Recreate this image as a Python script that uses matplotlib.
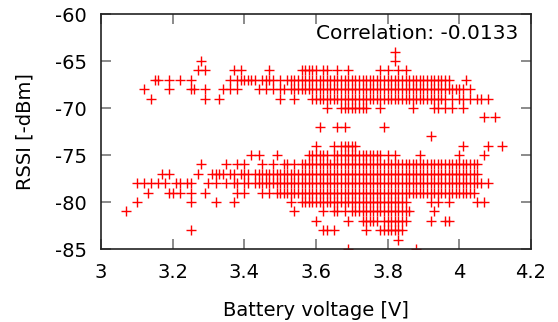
import matplotlib
matplotlib.use('Agg')
import matplotlib.pyplot as plt

plt.rcParams['axes.unicode_minus'] = False

# battery voltage in hundredths of a volt, one list per RSSI level
v_m64 = [382]
v_m65 = [328, 382]
v_m66 = [327, 329, 337, 339, 347, 356, 357, 358, 359, 360, 362, 363, 366, 369,
         378, 380, 383, 385]
v_m67 = [315, 316, 319, 322, 325, 336, 338, 339, 340, 341, 342, 343, 345, 346,
         347, 348, 350, 352, 353, 354, 355, 356, 357, 358, 359, 360, 361, 362,
         363, 364, 365, 366, 367, 368, 369, 370, 371, 372, 373, 374, 375, 376,
         377, 378, 379, 380, 381, 382, 383, 384, 385, 386, 387, 388, 389, 390,
         391, 392, 393, 394, 395, 396, 397, 402]
v_m68 = [312, 319, 325, 326, 329, 334, 336, 338, 344, 346, 348, 350, 351, 353,
         354, 355, 356, 357, 358, 359, 360, 361, 362, 363, 364, 365, 366, 367,
         368, 369, 370, 371, 372, 373, 374, 375, 376, 377, 378, 379, 380, 381,
         382, 383, 384, 385, 386, 387, 388, 389, 390, 391, 392, 393, 394, 395,
         396, 397, 398, 399, 400, 401, 403]
v_m69 = [314, 329, 333, 350, 354, 359, 360, 361, 362, 363, 364, 365, 366, 367,
         368, 369, 370, 371, 372, 373, 374, 375, 376, 377, 378, 379, 380, 381,
         382, 383, 384, 385, 386, 387, 388, 389, 390, 391, 392, 393, 394, 395,
         396, 398, 400, 401, 403, 405, 406, 408]
v_m70 = [363, 367, 368, 369, 370, 371, 372, 373, 374, 378, 387, 393, 394, 396,
         398, 401]
v_m71 = [407, 410]
v_m72 = [361, 366, 368, 379]
v_m73 = [392]
v_m74 = [360, 365, 367, 368, 369, 370, 371, 401, 408, 412]
v_m75 = [342, 344, 349, 358, 359, 360, 361, 362, 363, 365, 366, 367, 368, 369,
         370, 371, 372, 373, 374, 375, 376, 377, 378, 380, 382, 389, 400, 407]
v_m76 = [328, 335, 338, 340, 345, 348, 351, 352, 354, 356, 357, 358, 359, 360,
         361, 362, 363, 364, 365, 366, 367, 368, 369, 370, 371, 372, 373, 374,
         375, 376, 377, 378, 379, 380, 381, 382, 383, 384, 385, 386, 387, 388,
         389, 390, 391, 392, 393, 394, 395, 396, 397, 398, 399, 400, 401, 402,
         403, 404, 405]
v_m77 = [317, 319, 327, 331, 332, 333, 334, 336, 337, 339, 340, 341, 343, 344,
         345, 346, 347, 348, 349, 350, 351, 352, 353, 354, 355, 356, 357, 358,
         359, 360, 361, 362, 363, 364, 365, 366, 367, 368, 369, 370, 371, 372,
         373, 374, 375, 376, 377, 378, 379, 380, 381, 382, 383, 384, 385, 386,
         387, 388, 389, 390, 391, 392, 393, 394, 395, 396, 397, 398, 399, 400,
         401, 402, 403, 404, 405]
v_m78 = [310, 312, 314, 316, 318, 321, 322, 324, 325, 330, 332, 335, 337, 338,
         340, 341, 343, 344, 345, 346, 347, 348, 349, 350, 351, 352, 353, 354,
         355, 356, 357, 358, 359, 360, 361, 362, 363, 364, 365, 366, 367, 368,
         369, 370, 371, 372, 373, 374, 375, 376, 377, 378, 379, 380, 381, 382,
         383, 384, 385, 386, 387, 388, 389, 390, 391, 392, 393, 394, 395, 396,
         397, 398, 399, 400, 401, 402, 403, 404, 405, 406, 408]
v_m79 = [313, 319, 320, 322, 325, 329, 338, 340, 345, 347, 349, 350, 351, 352,
         353, 354, 355, 356, 357, 358, 359, 360, 361, 362, 363, 364, 365, 366,
         367, 368, 369, 370, 371, 372, 373, 374, 375, 376, 377, 378, 379, 380,
         381, 382, 383, 384, 385, 386, 387, 388, 389, 390, 391, 392, 393, 394,
         395, 396, 397, 398, 399, 400, 401, 402, 403, 404]
v_m80 = [310, 325, 332, 337, 353, 356, 357, 358, 359, 360, 361, 362, 363, 364,
         365, 366, 367, 368, 369, 370, 371, 372, 373, 374, 375, 376, 377, 378,
         379, 380, 381, 382, 383, 384, 385, 392, 394, 397, 405, 407]
v_m81 = [307, 354, 362, 365, 366, 368, 370, 371, 372, 373, 374, 375, 376, 377,
         378, 379, 380, 381, 382, 383, 384, 385, 386, 393]
v_m82 = [360, 369, 373, 374, 375, 376, 377, 379, 380, 381, 382, 383, 384, 385,
         392, 396, 397]
v_m83 = [325, 362, 363, 365, 374, 378, 379, 380, 381, 382, 383, 384]
v_m84 = [383]
v_m85 = [369, 388]

rssi_levels = [-64, -65, -66, -67, -68, -69, -70, -71, -72, -73, -74, -75,
               -76, -77, -78, -79, -80, -81, -82, -83, -84, -85]
level_voltages = [v_m64, v_m65, v_m66, v_m67, v_m68, v_m69, v_m70, v_m71,
                  v_m72, v_m73, v_m74, v_m75, v_m76, v_m77, v_m78, v_m79,
                  v_m80, v_m81, v_m82, v_m83, v_m84, v_m85]

x_ticks = [3, 3.2, 3.4, 3.6, 3.8, 4, 4.2]
x_labels = ['3', '3.2', '3.4', '3.6', '3.8', '4', '4.2']
y_ticks = [-85, -80, -75, -70, -65, -60]

volts = []
rssi = []
for level, vs in zip(rssi_levels, level_voltages):
    for v in vs:
        volts.append(v / 100)
        rssi.append(level)

fig = plt.figure(figsize=(5.58, 3.22), dpi=100)
ax = fig.add_axes([0.181, 0.2267, 0.7706, 0.7298])
ax.plot(volts, rssi, '+', color='red', markersize=7, markeredgewidth=1.0,
        linestyle='none')

ax.set_xlim(3, 4.2)
ax.set_ylim(-85, -60)
ax.set_xticks(x_ticks)
ax.set_xticklabels(x_labels)
ax.set_yticks(y_ticks)
ax.tick_params(direction='in', top=True, right=True, length=7, width=1.2,
               color='#777777', labelsize=14, pad=10)
for s in ax.spines.values():
    s.set_color('#222222')
    s.set_linewidth(1.2)

ax.set_xlabel('Battery voltage [V]', fontsize=14, labelpad=14)
ax.set_ylabel('RSSI [-dBm]', fontsize=14, labelpad=15)
ax.text(0.97, 0.917, 'Correlation: -0.0133', transform=ax.transAxes,
        ha='right', va='center', fontsize=14.5)

fig.savefig('out.png', dpi=100)
